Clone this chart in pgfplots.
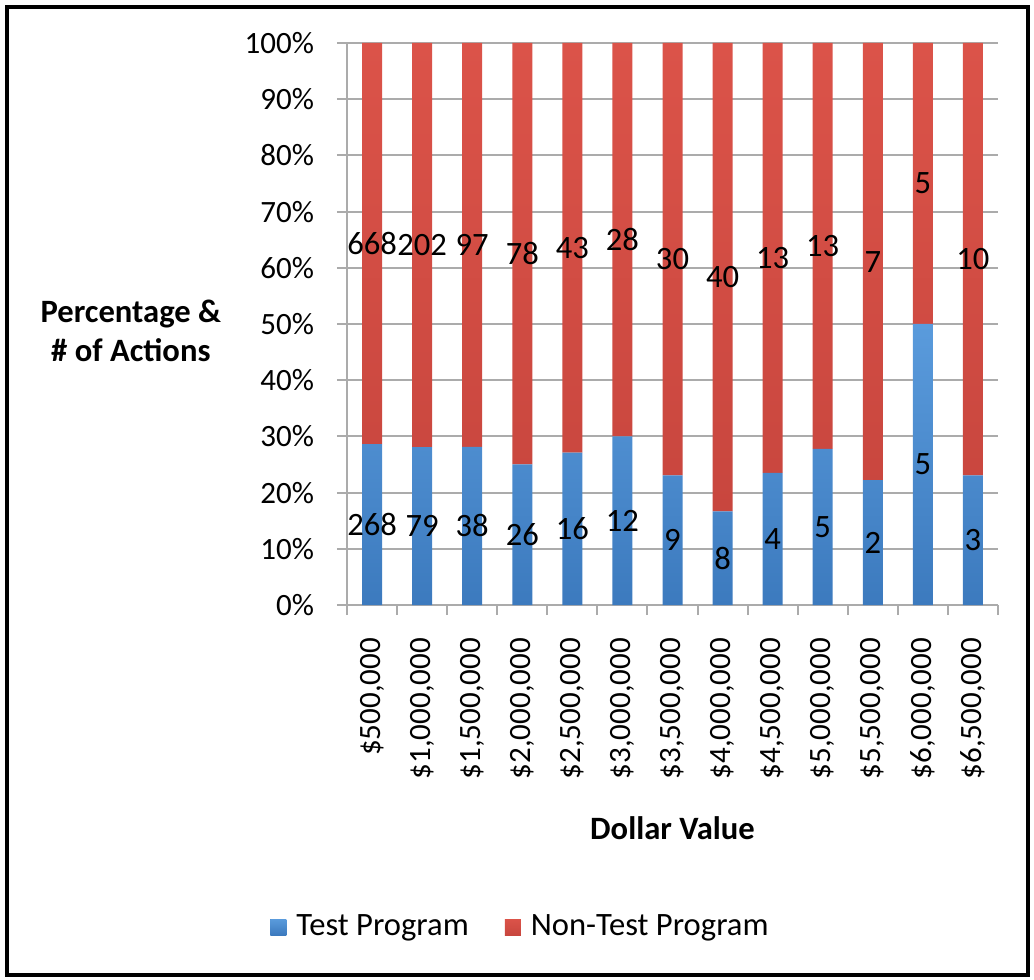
\documentclass[border=0pt]{standalone}
\usepackage{fontspec}
\setmainfont{Carlito}
\usepackage{pgfplots}
\usepackage{pgfplotstable}
\pgfplotsset{compat=1.18}
\definecolor{blueT}{HTML}{5A9BDC}
\definecolor{blueB}{HTML}{3C7ABE}
\definecolor{blueL}{HTML}{4A88CA}
\definecolor{redT}{HTML}{DB5349}
\definecolor{redB}{HTML}{C8463E}
\definecolor{redL}{HTML}{D24A40}
\definecolor{gridgray}{HTML}{ABABAB}
\newcommand\cf{\fontsize{15.5}{18.6}\selectfont}
\newcommand\lf{\fontsize{16.3}{19.5}\selectfont}

% x, test %, non-test %, test count, non-test count, label midpoints
\pgfplotstableread{
x  tp     np     tc   nc   tm     nm
0  28.63  71.37  268  668  14.32  64.32
1  28.11  71.89  79   202  14.06  64.06
2  28.15  71.85  38   97   14.07  64.07
3  25.00  75.00  26   78   12.50  62.50
4  27.12  72.88  16   43   13.56  63.56
5  30.00  70.00  12   28   15.00  65.00
6  23.08  76.92  9    30   11.54  61.54
7  16.67  83.33  8    40   8.33   58.33
8  23.53  76.47  4    13   11.76  61.76
9  27.78  72.22  5    13   13.89  63.89
10 22.22  77.78  2    7    11.11  61.11
11 50.00  50.00  5    5    25.00  75.00
12 23.08  76.92  3    10   11.54  61.54
}\datatable

\begin{document}
\begin{tikzpicture}
\path (0pt,0pt) rectangle (517pt,490pt);
\draw[line width=2pt] (3.5pt,2.5pt) rectangle (514pt,486.5pt);
\begin{axis}[
  at={(173.5pt,187.5pt)}, anchor=south west,
  width=325.5pt, height=281pt, scale only axis,
  ybar stacked, bar width=10pt,
  xmin=-0.5, xmax=12.5, ymin=0, ymax=100,
  axis lines*=left,
  axis line style={draw=gridgray, line width=1pt},
  ymajorgrids, grid style={draw=gridgray, line width=1pt},
  ytick={0,10,...,100},
  yticklabels={0\%,10\%,20\%,30\%,40\%,50\%,60\%,70\%,80\%,90\%,100\%},
  xtick={0,...,12},
  xticklabels={{\$500,000},{\$1,000,000},{\$1,500,000},{\$2,000,000},{\$2,500,000},{\$3,000,000},{\$3,500,000},{\$4,000,000},{\$4,500,000},{\$5,000,000},{\$5,500,000},{\$6,000,000},{\$6,500,000}},
  minor xtick={-0.5,0.5,...,12.5},
  major x tick style={draw=none},
  tick align=outside, major tick length=5pt, minor tick length=5pt,
  tick style={draw=gridgray, line width=1pt},
  /pgf/number format/assume math mode=true,
  ticklabel style={font=\cf},
  xticklabel style={rotate=90, anchor=east},
  xticklabel shift=8pt,
  yticklabel style={xshift=-8pt},
  xlabel={Dollar Value}, ylabel={Percentage \&\\\# of Actions},
  label style={font=\lf\bfseries},
  xlabel style={at={(0.5,-0.397)}, anchor=center},
  ylabel style={at={(-0.332,0.4875)}, anchor=center, rotate=-90, align=center},
  legend style={at={(0.268,-0.573)}, anchor=center, draw=none, font=\lf,
    legend columns=2,
    /tikz/every even column/.append style={column sep=16pt}},
  legend cell align=left,
]
\addplot[draw=none, top color=blueT, bottom color=blueB,
  legend image code/.code={\fill[blueL] (0pt,-4pt) rectangle (8pt,4pt);}]
  table[x=x, y=tp] {\datatable};
\addlegendentry{\hspace{3pt}Test Program}
\addplot[draw=none, top color=redT, bottom color=redB,
  legend image code/.code={\fill[redL] (0pt,-4pt) rectangle (8pt,4pt);}]
  table[x=x, y=np] {\datatable};
\addlegendentry{\hspace{3pt}Non-Test Program}
\end{axis}
\begin{axis}[
  at={(173.5pt,187.5pt)}, anchor=south west,
  width=325.5pt, height=281pt, scale only axis,
  xmin=-0.5, xmax=12.5, ymin=0, ymax=100,
  axis lines=none, clip=false,
  nodes near coords, point meta=explicit symbolic,
  every node near coord/.append style={anchor=center, font=\lf, text=black},
]
\addplot[draw=none, mark=none] table[x=x, y=tm, meta=tc] {\datatable};
\addplot[draw=none, mark=none] table[x=x, y=nm, meta=nc] {\datatable};
\end{axis}
\end{tikzpicture}
\end{document}
